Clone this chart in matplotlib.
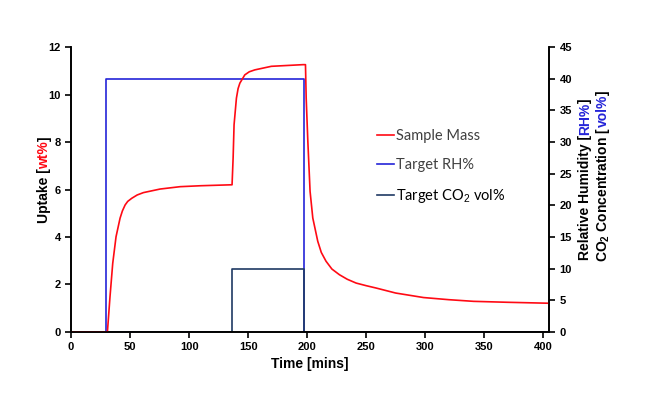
import numpy as np
import matplotlib
matplotlib.use("Agg")
import matplotlib.pyplot as plt

plt.rcParams['font.family'] = 'Liberation Sans'
plt.rcParams['mathtext.fontset'] = 'custom'
plt.rcParams['mathtext.rm'] = 'Liberation Sans'
plt.rcParams['mathtext.bf'] = 'Liberation Sans:bold'

# sample mass (uptake, wt%)
time = [0, 30.8, 33, 35.3, 38.1, 41.5, 43.5, 45.8, 48, 51.4, 56, 61.3, 75.4,
        92.4, 110, 136.4,
        137.3, 138.1, 140.1, 141.5, 143, 147.2, 151, 155.7, 169.7, 185, 196.6,
        198.6,
        199.2, 200.6, 202.5, 204.8, 209, 212, 216, 221, 227.4, 234, 241.5,
        250, 258.5, 275, 298.6, 320, 341, 370, 405]
uptake = [0, 0, 1.49, 2.89, 4.01, 4.79, 5.1, 5.35, 5.5, 5.63, 5.77, 5.87, 6.02,
          6.12, 6.16, 6.2,
          7.33, 8.73, 9.85, 10.25, 10.48, 10.83, 10.96, 11.04, 11.19, 11.23,
          11.26, 11.26,
          9.85, 8.03, 5.92, 4.8, 3.82, 3.35, 2.98, 2.65, 2.41, 2.22, 2.06,
          1.95, 1.85, 1.64, 1.45, 1.36, 1.29, 1.25, 1.21]

# setpoints (step profiles)
rh_time = [0, 30, 30, 197, 197, 405]
rh_value = [0, 0, 40, 40, 0, 0]
co2_time = [0, 136, 136, 197, 197, 405]
co2_value = [0, 0, 10, 10, 0, 0]

red = '#ff0a14'
blue = '#2424d8'
navy = '#1f3a64'

fig = plt.figure(figsize=(6.46, 3.99), dpi=100)
ax = fig.add_axes([0.110, 0.168, 0.740, 0.714])
ax2 = ax.twinx()

l2, = ax2.plot(rh_time, rh_value, color=blue, lw=1.2, label='Target RH%')
l3, = ax2.plot(co2_time, co2_value, color=navy, lw=1.2, label='Target CO$_2$ vol%')
l1, = ax.plot(time, uptake, color=red, lw=1.2, label='Sample Mass')
ax.set_zorder(ax2.get_zorder() + 1)
ax.patch.set_visible(False)

ax.set_xlim(0, 405)
ax.set_ylim(0, 12)
ax2.set_ylim(0, 45)
ax.set_xticks(np.arange(0, 401, 50))
ax.set_yticks(np.arange(0, 13, 2))
ax2.set_yticks(np.arange(0, 46, 5))

for a in (ax, ax2):
    a.spines['top'].set_visible(False)
    for s in a.spines.values():
        s.set_linewidth(1.2)
    a.tick_params(direction='out', length=4, width=1.2, labelsize=8)
    for t in a.get_xticklabels() + a.get_yticklabels():
        t.set_fontweight('bold')

ax.set_xlabel('Time [mins]', fontsize=10, fontweight='bold', labelpad=3)

leg = ax.legend(handles=[l1, l2, l3], loc='upper left',
                bbox_to_anchor=(0.612, 0.759), frameon=False,
                handlelength=1.2, handletextpad=0.1, labelspacing=1.05,
                prop={'family': 'Lato', 'size': 10.5})
for t in leg.get_texts():
    t.set_color('#404040')
leg.get_texts()[2].set_color('black')


def rotated_label(x, y, parts):
    # stack coloured pieces of one vertical label, bottom to top
    fig.canvas.draw()
    r = fig.canvas.get_renderer()
    px, py = fig.transFigure.transform((x, y))
    for s, c in parts:
        t = fig.text(px, py, s, color=c, rotation=90, rotation_mode='anchor',
                     ha='left', va='baseline', fontsize=10, fontweight='bold',
                     transform=None)
        py = t.get_window_extent(r).y1


rotated_label(0.075, 0.44, [('Uptake [', 'black'), ('wt%', red), (']', 'black')])
rotated_label(0.912, 0.348, [('Relative Humidity [', 'black'), ('RH%', blue),
                             (']', 'black')])
rotated_label(0.940, 0.343, [('CO$_\\mathbf{2}$ Concentration [', 'black'),
                             ('vol%', blue), (']', 'black')])

fig.savefig('out.png', dpi=100)
